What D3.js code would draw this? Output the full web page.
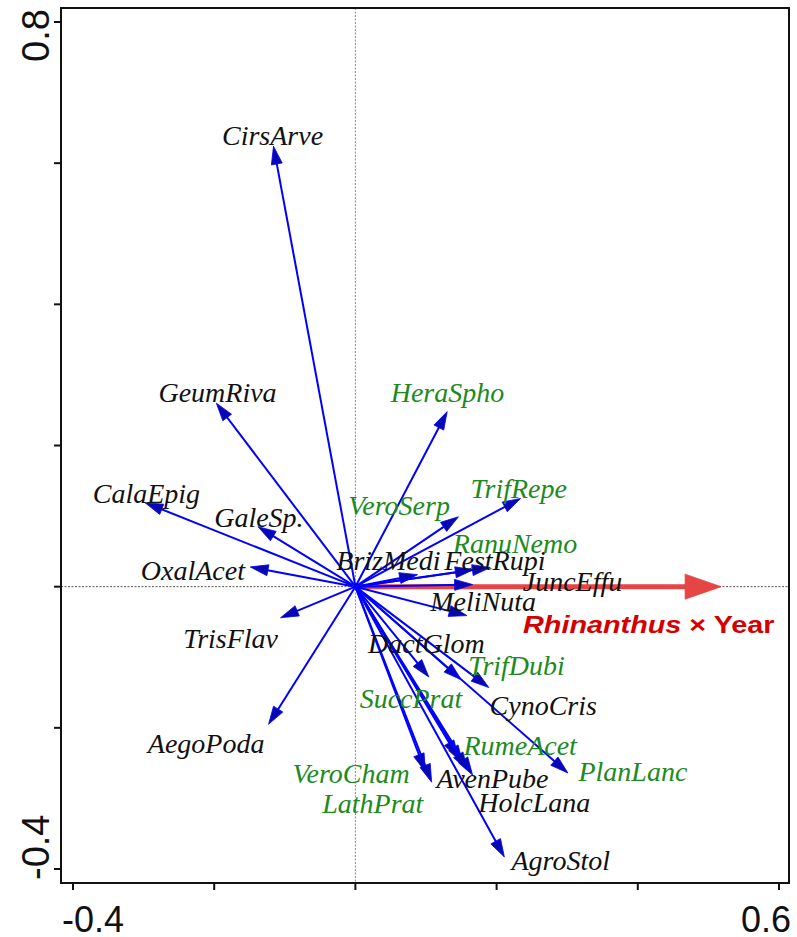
<!DOCTYPE html>
<html lang="en">
<head>
<meta charset="utf-8">
<script src="https://cdn.jsdelivr.net/npm/d3@7"></script>
<style>
    body { margin: 0; background: #fff; }
    svg { display: block; }
</style>
</head>
<body>
<div id="chart"></div>
<script>
    // species scores (arrow tips, axis 1 / axis 2)
    const species = ['CirsArve', 'GeumRiva', 'HeraSpho', 'CalaEpig', 'TrifRepe', 'VeroSerp', 'GaleSp.',
        'RanuNemo', 'BrizMedi', 'FestRupi', 'OxalAcet', 'JuncEffu', 'MeliNuta', 'TrisFlav', 'DactGlom',
        'TrifDubi', 'SuccPrat', 'CynoCris', 'AegoPoda', 'RumeAcet', 'PlanLanc', 'VeroCham', 'AvenPube',
        'HolcLana', 'LathPrat', 'AgroStol'];
    const axis1 = [-0.116, -0.197, 0.130, -0.298, 0.234, 0.146, -0.138,
        0.191, 0.088, 0.167, -0.149, 0.166, 0.158, -0.106, 0.104,
        0.150, 0.146, 0.189, -0.123, 0.152, 0.301, 0.099, 0.166,
        0.159, 0.108, 0.211];
    const axis2 = [0.624, 0.260, 0.248, 0.119, 0.125, 0.099, 0.085,
        0.027, 0.017, 0.024, 0.028, 0.003, -0.041, -0.044, -0.128,
        -0.132, -0.243, -0.143, -0.195, -0.250, -0.264, -0.262, -0.267,
        -0.260, -0.277, -0.383];
    // label anchors (start / baseline), in axis units
    const labelX = [-0.189, -0.279, 0.050, -0.372, 0.163, -0.010, -0.200,
        0.138, -0.027, 0.126, -0.304, 0.237, 0.106, -0.244, 0.018,
        0.160, 0.006, 0.190, -0.294, 0.153, 0.316, -0.089, 0.115,
        0.174, -0.047, 0.221];
    const labelY = [0.626, 0.261, 0.261, 0.119, 0.126, 0.102, 0.084,
        0.048, 0.023, 0.023, 0.010, -0.006, -0.034, -0.087, -0.094,
        -0.125, -0.172, -0.182, -0.235, -0.238, -0.275, -0.278, -0.285,
        -0.319, -0.321, -0.401];
    const greenSpecies = ['HeraSpho', 'VeroSerp', 'TrifRepe', 'RanuNemo', 'TrifDubi', 'SuccPrat',
        'RumeAcet', 'VeroCham', 'PlanLanc', 'LathPrat'];

    // explanatory variable
    const envName = ['Rhinanthus', ' \u00d7 Year'];
    const envScore = [0.518, 0.0];

    const xTicks = [-0.4, -0.2, 0, 0.2, 0.4, 0.6];
    const yTicks = [-0.4, -0.2, 0, 0.2, 0.4, 0.6, 0.8];
    const xTickLabels = ['-0.4', '', '', '', '', '0.6'];
    const yTickLabels = ['-0.4', '', '', '', '', '', '0.8'];

    const width = 797, height = 937;
    const box = {left: 61, right: 789, top: 8, bottom: 883};

    const x = d3.scaleLinear().domain([-0.4, 0.6]).range([73, 779]);
    const y = d3.scaleLinear().domain([-0.4, 0.8]).range([869, 22]);

    const svg = d3.select('#chart').append('svg')
        .attr('width', width).attr('height', height);

    // zero lines
    svg.append('line')
        .attr('x1', box.left).attr('x2', box.right)
        .attr('y1', y(0)).attr('y2', y(0))
        .attr('stroke', '#555').attr('stroke-width', 1).attr('stroke-dasharray', '2 1.5');
    svg.append('line')
        .attr('x1', x(0)).attr('x2', x(0))
        .attr('y1', box.top).attr('y2', box.bottom)
        .attr('stroke', '#888').attr('stroke-width', 1).attr('stroke-dasharray', '2 1.5');

    // frame
    svg.append('rect')
        .attr('x', box.left).attr('y', box.top)
        .attr('width', box.right - box.left).attr('height', box.bottom - box.top)
        .attr('fill', 'none').attr('stroke', '#111').attr('stroke-width', 2);

    // ticks
    svg.append('g').selectAll('line').data(xTicks).join('line')
        .attr('x1', d => x(d)).attr('x2', d => x(d))
        .attr('y1', box.bottom).attr('y2', box.bottom + 7)
        .attr('stroke', '#111').attr('stroke-width', 2);
    svg.append('g').selectAll('line').data(yTicks).join('line')
        .attr('x1', box.left - 7).attr('x2', box.left)
        .attr('y1', d => y(d)).attr('y2', d => y(d))
        .attr('stroke', '#111').attr('stroke-width', 2);

    // tick labels (only the extremes are labelled)
    const tickFont = 'Arial, "Liberation Sans", sans-serif';
    svg.append('text')
        .attr('x', box.left + 1).attr('y', box.bottom + 49)
        .attr('font-family', tickFont).attr('font-size', 36).attr('fill', '#111')
        .text(xTickLabels[0]);
    svg.append('text')
        .attr('x', box.right + 2).attr('y', box.bottom + 49)
        .attr('text-anchor', 'end')
        .attr('font-family', tickFont).attr('font-size', 36).attr('fill', '#111')
        .text(xTickLabels[xTickLabels.length - 1]);
    svg.append('text')
        .attr('transform', `translate(49,${y(0.8) + 40}) rotate(-90)`)
        .attr('font-family', tickFont).attr('font-size', 38).attr('fill', '#111')
        .text(yTickLabels[yTickLabels.length - 1]);
    svg.append('text')
        .attr('transform', `translate(49,${y(-0.4) + 11}) rotate(-90)`)
        .attr('font-family', tickFont).attr('font-size', 38).attr('fill', '#111')
        .text(yTickLabels[0]);

    // arrow helper: shaft + filled triangular head
    const drawArrow = (g, x0, y0, x1, y1, headLen, headHalf, lineColor, headColor, lw) => {
        const a = Math.atan2(y1 - y0, x1 - x0);
        const bx = x1 - headLen * Math.cos(a), by = y1 - headLen * Math.sin(a);
        g.append('line')
            .attr('x1', x0).attr('y1', y0)
            .attr('x2', x1 - (headLen * 0.6) * Math.cos(a)).attr('y2', y1 - (headLen * 0.6) * Math.sin(a))
            .attr('stroke', lineColor).attr('stroke-width', lw);
        const p = d3.path();
        p.moveTo(x1, y1);
        p.lineTo(bx - headHalf * Math.sin(a), by + headHalf * Math.cos(a));
        p.lineTo(bx + headHalf * Math.sin(a), by - headHalf * Math.cos(a));
        p.closePath();
        g.append('path').attr('d', p.toString())
            .attr('fill', headColor).attr('stroke', lineColor).attr('stroke-width', 0.8);
    };

    // environmental arrow first (species arrows drawn over it)
    const envG = svg.append('g');
    drawArrow(envG, x(0), y(0), x(envScore[0]), y(envScore[1]), 36, 12.5, '#e54545', '#e54545', 5);

    const spG = svg.append('g');
    species.forEach((s, i) => {
        drawArrow(spG, x(0), y(0), x(axis1[i]), y(axis2[i]), 18, 5.5, '#0000ff', '#0808b0', 2);
    });

    // species labels
    svg.append('g').selectAll('text').data(species).join('text')
        .attr('x', (d, i) => x(labelX[i]))
        .attr('y', (d, i) => y(labelY[i]))
        .attr('font-family', '"Liberation Serif", "Times New Roman", serif')
        .attr('font-style', 'italic')
        .attr('font-size', 28)
        .attr('fill', d => greenSpecies.includes(d) ? '#1d8a1d' : '#111')
        .text(d => d);

    // environmental label
    const envText = svg.append('text')
        .attr('transform', `translate(523,633) scale(1.2,1)`)
        .attr('font-family', 'Arial, "Liberation Sans", sans-serif')
        .attr('font-weight', 'bold')
        .attr('font-size', 24)
        .attr('fill', '#d40000');
    envText.append('tspan').attr('font-style', 'italic').text(envName[0]);
    envText.append('tspan').text(envName[1]);
</script>
</body>
</html>
